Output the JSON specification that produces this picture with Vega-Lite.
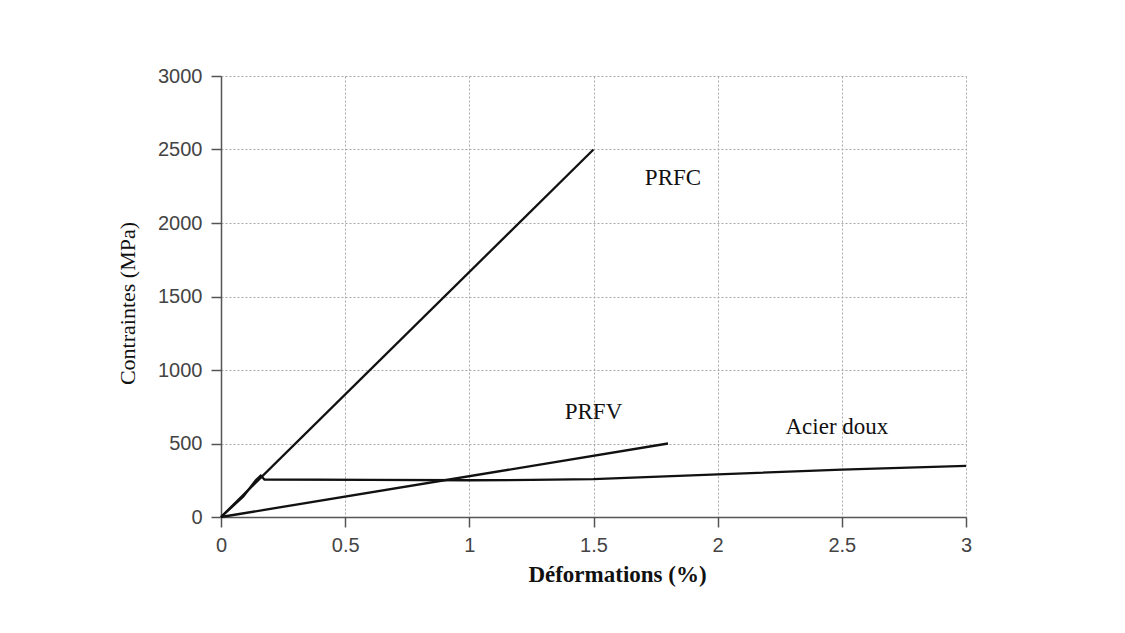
{
  "$schema": "https://vega.github.io/schema/vega-lite/v6.json",
  "width": 745,
  "height": 441,
  "autosize": {"type": "none"},
  "padding": {"left": 221, "top": 76, "right": 159, "bottom": 116},
  "background": "white",
  "config": {
    "view": {"stroke": null},
    "axis": {
      "grid": true,
      "gridDash": [2, 2],
      "gridColor": "#a8a8a8",
      "gridWidth": 1,
      "domainColor": "#555555",
      "domainWidth": 1.5,
      "tickColor": "#555555",
      "tickWidth": 1.5,
      "tickSize": 10,
      "labelFont": "Liberation Sans",
      "labelFontSize": 20,
      "labelColor": "#444444",
      "labelFlush": false,
      "titleFont": "Liberation Serif",
      "titleColor": "#111111"
    }
  },
  "datasets": {
    "curves": [
      {"serie": "PRFC", "def": 0, "contrainte": 0},
      {"serie": "PRFC", "def": 1.5, "contrainte": 2500},
      {"serie": "PRFV", "def": 0, "contrainte": 0},
      {"serie": "PRFV", "def": 1.8, "contrainte": 500},
      {"serie": "Acier doux", "def": 0, "contrainte": 0},
      {"serie": "Acier doux", "def": 0.09, "contrainte": 140},
      {"serie": "Acier doux", "def": 0.14, "contrainte": 250},
      {"serie": "Acier doux", "def": 0.16, "contrainte": 282},
      {"serie": "Acier doux", "def": 0.175, "contrainte": 255},
      {"serie": "Acier doux", "def": 0.6, "contrainte": 253},
      {"serie": "Acier doux", "def": 1.0, "contrainte": 250},
      {"serie": "Acier doux", "def": 1.25, "contrainte": 252},
      {"serie": "Acier doux", "def": 1.5, "contrainte": 258},
      {"serie": "Acier doux", "def": 2.0, "contrainte": 290},
      {"serie": "Acier doux", "def": 2.5, "contrainte": 322},
      {"serie": "Acier doux", "def": 3.0, "contrainte": 348}
    ],
    "labels": [
      {"label": "PRFC", "def": 1.82, "contrainte": 2306},
      {"label": "PRFV", "def": 1.5, "contrainte": 714},
      {"label": "Acier doux", "def": 2.48, "contrainte": 612}
    ]
  },
  "layer": [
    {
      "data": {"name": "curves"},
      "mark": {"type": "line", "color": "#111111", "strokeWidth": 2.3},
      "encoding": {
        "x": {
          "field": "def",
          "type": "quantitative",
          "scale": {"domain": [0, 3], "nice": false, "zero": true},
          "axis": {
            "values": [0, 0.5, 1, 1.5, 2, 2.5, 3],
            "format": ".1~f",
            "labelPadding": 8,
            "title": "Déformations (%)",
            "titleFontSize": 23,
            "titleFontWeight": "bold",
            "titlePadding": 8,
            "titleX": 396
          }
        },
        "y": {
          "field": "contrainte",
          "type": "quantitative",
          "scale": {"domain": [0, 3000], "nice": false},
          "axis": {
            "values": [0, 500, 1000, 1500, 2000, 2500, 3000],
            "format": "d",
            "labelPadding": 9,
            "title": "Contraintes (MPa)",
            "titleFontSize": 22,
            "titleFontWeight": "normal",
            "titlePadding": 18,
            "titleY": 227
          }
        },
        "detail": {"field": "serie", "type": "nominal"}
      }
    },
    {
      "data": {"name": "labels"},
      "mark": {
        "type": "text",
        "font": "Liberation Serif",
        "fontSize": 23,
        "color": "#111111",
        "align": "center",
        "baseline": "middle"
      },
      "encoding": {
        "x": {"field": "def", "type": "quantitative"},
        "y": {"field": "contrainte", "type": "quantitative"},
        "text": {"field": "label", "type": "nominal"}
      }
    }
  ]
}
